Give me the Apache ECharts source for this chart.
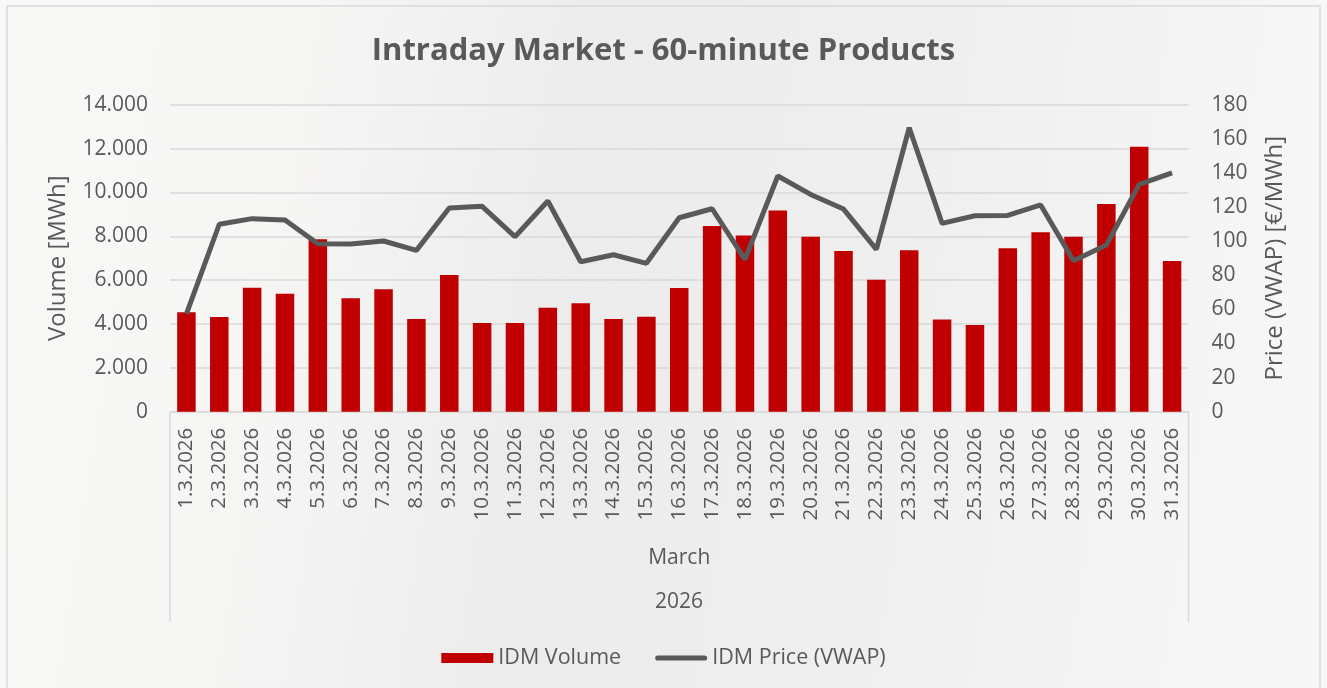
<!DOCTYPE html>
<html><head><meta charset="utf-8">
<script src="https://cdn.jsdelivr.net/npm/echarts@6/dist/echarts.min.js"></script>
<style>html,body{margin:0;padding:0;}#c{width:1327px;height:688px;}</style>
</head><body><div id="c"></div>
<script>
const categories = ['1.3.2026','2.3.2026','3.3.2026','4.3.2026','5.3.2026','6.3.2026','7.3.2026','8.3.2026','9.3.2026','10.3.2026','11.3.2026','12.3.2026','13.3.2026','14.3.2026','15.3.2026','16.3.2026','17.3.2026','18.3.2026','19.3.2026','20.3.2026','21.3.2026','22.3.2026','23.3.2026','24.3.2026','25.3.2026','26.3.2026','27.3.2026','28.3.2026','29.3.2026','30.3.2026','31.3.2026'];
const volume = [4530,4320,5650,5380,7860,5170,5580,4230,6230,4050,4050,4740,4940,4230,4330,5640,8470,8040,9180,7980,7330,6020,7360,4210,3950,7450,8180,7980,9470,12080,6870];
const price = [57.3,109.9,113.2,112.4,98.5,98.3,100.1,94.6,119.4,120.4,102.6,123.5,87.9,92.0,87.0,113.7,119.0,89.3,138.2,127.4,118.8,95.2,166.5,110.4,114.9,115.1,121.2,88.5,97.7,133.3,140.0];
const volumeTicks = {min:0, max:14000, interval:2000};
const priceTicks = {min:0, max:180, interval:20};

const txt = '#595959';
const font = "'Open Sans', sans-serif";
function fmtThousands(v){ return String(v).replace(/\B(?=(\d{3})+(?!\d))/g,'.'); }

const chart = echarts.init(document.getElementById('c'), null, {renderer:'canvas'});
chart.setOption({
  backgroundColor: {type:'linear', x:0, y:0, x2:1, y2:0.3, colorStops:[
    {offset:0, color:'#f9f9f8'},{offset:0.25, color:'#f6f5f4'},{offset:0.45, color:'#ececec'},
    {offset:0.7, color:'#efefef'},{offset:1, color:'#f7f7f7'}]},
  animation:false,
  title:{text:'Intraday Market - 60-minute Products', left:'center', top:31,
    textStyle:{color:txt, fontFamily:font, fontWeight:'bold', fontSize:31}},
  grid:{left:170, right:138.5, top:104.7, bottom:276.3, containLabel:false},
  legend:{bottom:14, left:'center', itemWidth:52, itemHeight:10, itemGap:34,
    textStyle:{color:txt, fontFamily:font, fontSize:21.5},
    data:[{name:'IDM Volume', icon:'rect'},
          {name:'IDM Price (VWAP)', icon:'path://M5,0 L95,0 A5,5 0 0 1 95,10 L5,10 A5,5 0 0 1 5,0 Z',
           itemStyle:{color:'#595959'}}]},
  xAxis:{type:'category', data:categories, boundaryGap:true,
    axisLine:{lineStyle:{color:'#d9d9d9', width:1.5}}, axisTick:{show:false},
    axisLabel:{rotate:90, interval:0, color:txt, fontFamily:font, fontSize:20.5, margin:16},
    name:'March', nameLocation:'middle', nameGap:136,
    nameTextStyle:{color:txt, fontFamily:font, fontSize:21}},
  yAxis:[
    {type:'value', min:volumeTicks.min, max:volumeTicks.max, interval:volumeTicks.interval,
     name:'Volume [MWh]', nameLocation:'middle', nameGap:100,
     nameTextStyle:{color:txt, fontFamily:font, fontSize:24}},
    {type:'value', min:priceTicks.min, max:priceTicks.max, interval:priceTicks.interval,
     name:'Price (VWAP) [€/MWh]', nameLocation:'middle', nameGap:75,
     nameTextStyle:{color:txt, fontFamily:font, fontSize:24}}
  ].map((a,i)=>Object.assign(a,{
     axisLine:{show:false}, axisTick:{show:false},
     axisLabel:{color:txt, fontFamily:font, fontSize:21, margin:i===0?22:23,
       formatter: i===0 ? (v=>fmtThousands(v)) : (v=>String(v))},
     splitLine: i===0 ? {lineStyle:{color:'#d9d9d9', width:1.5}} : {show:false}})),
  series:[
    {name:'IDM Volume', type:'bar', data:volume, barWidth:18.5, yAxisIndex:0,
     itemStyle:{color:'#c00000'}},
    {name:'IDM Price (VWAP)', type:'line', data:price, yAxisIndex:1, symbol:'none',
     lineStyle:{color:'#595959', width:5}, itemStyle:{color:'#595959'}}
  ],
  graphic:[
    {type:'rect', shape:{x:7, y:6, width:1313, height:690}, style:{fill:'none', stroke:'#d9d9d9', lineWidth:1.5}, silent:true},
    {type:'line', shape:{x1:170, y1:412, x2:170, y2:622}, style:{stroke:'#d9d9d9', lineWidth:1.5}, silent:true},
    {type:'line', shape:{x1:1188.5, y1:412, x2:1188.5, y2:622}, style:{stroke:'#d9d9d9', lineWidth:1.5}, silent:true},
    {type:'text', x:679, y:592, style:{text:'2026', fill:txt, textAlign:'center', font:"21px 'Open Sans', sans-serif"}}
  ]
});
</script></body></html>
